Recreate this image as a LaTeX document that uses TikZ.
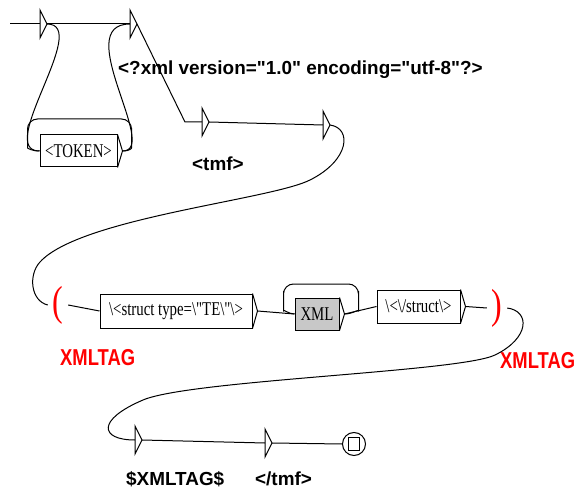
\documentclass[tikz,border=0pt]{standalone}
\usepackage{fontspec}
\usepackage{graphicx}
\setmainfont{Liberation Serif}
\newfontfamily\boxfont{Liberation Serif}
\newfontfamily\outfont{Liberation Sans}
\usetikzlibrary{calc}
\definecolor{xmlgray}{RGB}{200,200,200}
\newcommand{\boxtxt}[1]{\scalebox{0.76}[1]{#1}}
\tikzset{
  tr/.style={line width=1pt},
  ubox/.style={draw, line width=1pt, inner sep=0pt, font=\boxfont\fontsize{19.5}{21}\selectfont},
  outlbl/.style={anchor=base west, inner sep=0pt, font=\outfont\bfseries\fontsize{18.9}{20}\selectfont},
  varlbl/.style={anchor=base west, inner sep=0pt, text=red, font=\outfont\bfseries\fontsize{23}{25}\selectfont},
  paren/.style={inner sep=0pt, minimum width=20pt, text=red, font=\boxfont\fontsize{42}{44}\selectfont},
  emptybox/.pic={
    \draw[line width=1pt] (0,-14) -- (0,14) -- (7,0) -- cycle;
    \coordinate (-in) at (0,0);
    \coordinate (-out) at (7,0);
  }
}

\begin{document}
\begin{tikzpicture}[x=1pt, y=-1pt]
    \useasboundingbox (0,0) rectangle (582,495);

    % first part: token loop and header
    \coordinate (start) at (10,24);
    \pic (t1) at (40,24) {emptybox};
    \pic (t2) at (130,24) {emptybox};
    \node[ubox, minimum width=77pt, minimum height=32pt] (tok) at (78.5,151) {\boxtxt{<TOKEN>}};
    \node[outlbl] (decl) at (118,75) {<?xml version="1.0" encoding="utf-8"?>};
    \pic (t3) at (202,122) {emptybox};
    \pic (t4) at (323,125) {emptybox};
    \node[outlbl] (tmfo) at (192,171) {<tmf>};

    % second part: the variable
    \node[paren] (popen) at (58,305) {\boxtxt{(}};
    \node[varlbl] (vopen) at (60,365) {\scalebox{0.8}[1]{XMLTAG}};
    \node[ubox, minimum width=152pt, minimum height=34pt] (sopen) at (176,311) {\boxtxt{\textbackslash<struct type=\textbackslash"TE\textbackslash"\textbackslash>}};
    \node[ubox, fill=xmlgray, minimum width=44pt, minimum height=32pt] (xml) at (317,314) {\boxtxt{XML}};
    \node[ubox, minimum width=83pt, minimum height=33pt] (sclose) at (418.5,306.5) {\boxtxt{\textbackslash<\textbackslash/struct\textbackslash>}};
    \node[paren] (pclose) at (497,308) {\boxtxt{)}};
    \node[varlbl] (vclose) at (500,368) {\scalebox{0.8}[1]{XMLTAG}};

    % last part
    \pic (t5) at (135,440) {emptybox};
    \pic (t6) at (265,443) {emptybox};
    \node[outlbl] (varo) at (126,485) {\$XMLTAG\$};
    \node[outlbl] (tmfc) at (255,485) {</tmf>};
    \node[draw, circle, line width=1pt, minimum size=23pt, inner sep=0pt] (fin) at (354,444) {};
    \node[draw, line width=1pt, minimum width=11pt, minimum height=13pt, inner sep=0pt] (finsq) at (fin) {};

    % box tips
    \foreach \b in {tok,sopen,xml,sclose}
        \draw[tr] (\b.north east) -- ($(\b.east)+(5,0)$) coordinate (\b-tip) -- (\b.south east);

    % transitions
    \draw[tr] (start) -- (t1-in);
    \draw[tr] (t1-out) -- (t2-in);
    \draw[tr] (t1-out) .. controls +(45,0) and +(-45,0) .. (tok.west);
    \draw[tr] (tok-tip) .. controls +(38,0) and +(-60,0) .. (t2-in);
    \draw[tr, rounded corners=10pt] (tok-tip) .. controls +(8,0) and +(0,10) .. ++(9,-13)
        -- ++(0,-19) -- ++(-104,0) -- ++(0,19) .. controls +(0,10) and +(-8,0) .. (tok.west);
    \draw[tr] (t2-out) -- (185,122) -- (t3-in);
    \draw[tr] (t3-out) -- (t4-in);
    \draw[tr] (t4-out) .. controls +(22,3) and +(40,-20) .. (310,180)
        .. controls +(-40,20) and +(40,-44) .. (40,262)
        .. controls +(-12,13) and +(-17,-4) .. (popen.west);
    \draw[tr] (popen.east) -- (sopen.west);
    \draw[tr] (sopen-tip) -- (xml.west);
    \draw[tr, rounded corners=10pt] (xml-tip) .. controls +(8,0) and +(0,8) .. ++(14,-13)
        -- ++(0,-17) -- ++(-75,0) -- ++(0,17) .. controls +(0,8) and +(-6,0) .. (xml.west);
    \draw[tr] (xml-tip) -- (sclose.west);
    \draw[tr] (sclose-tip) -- (pclose.west);
    \draw[tr] (pclose.east) .. controls +(23,3) and +(35,-17) .. (495,355)
        .. controls +(-35,17) and +(47,-20) .. (143,400)
        .. controls +(-47,20) and +(-35,0) .. (t5-in);
    \draw[tr] (t5-out) -- (t6-in);
    \draw[tr] (t6-out) -- (fin.west);
\end{tikzpicture}
\end{document}
